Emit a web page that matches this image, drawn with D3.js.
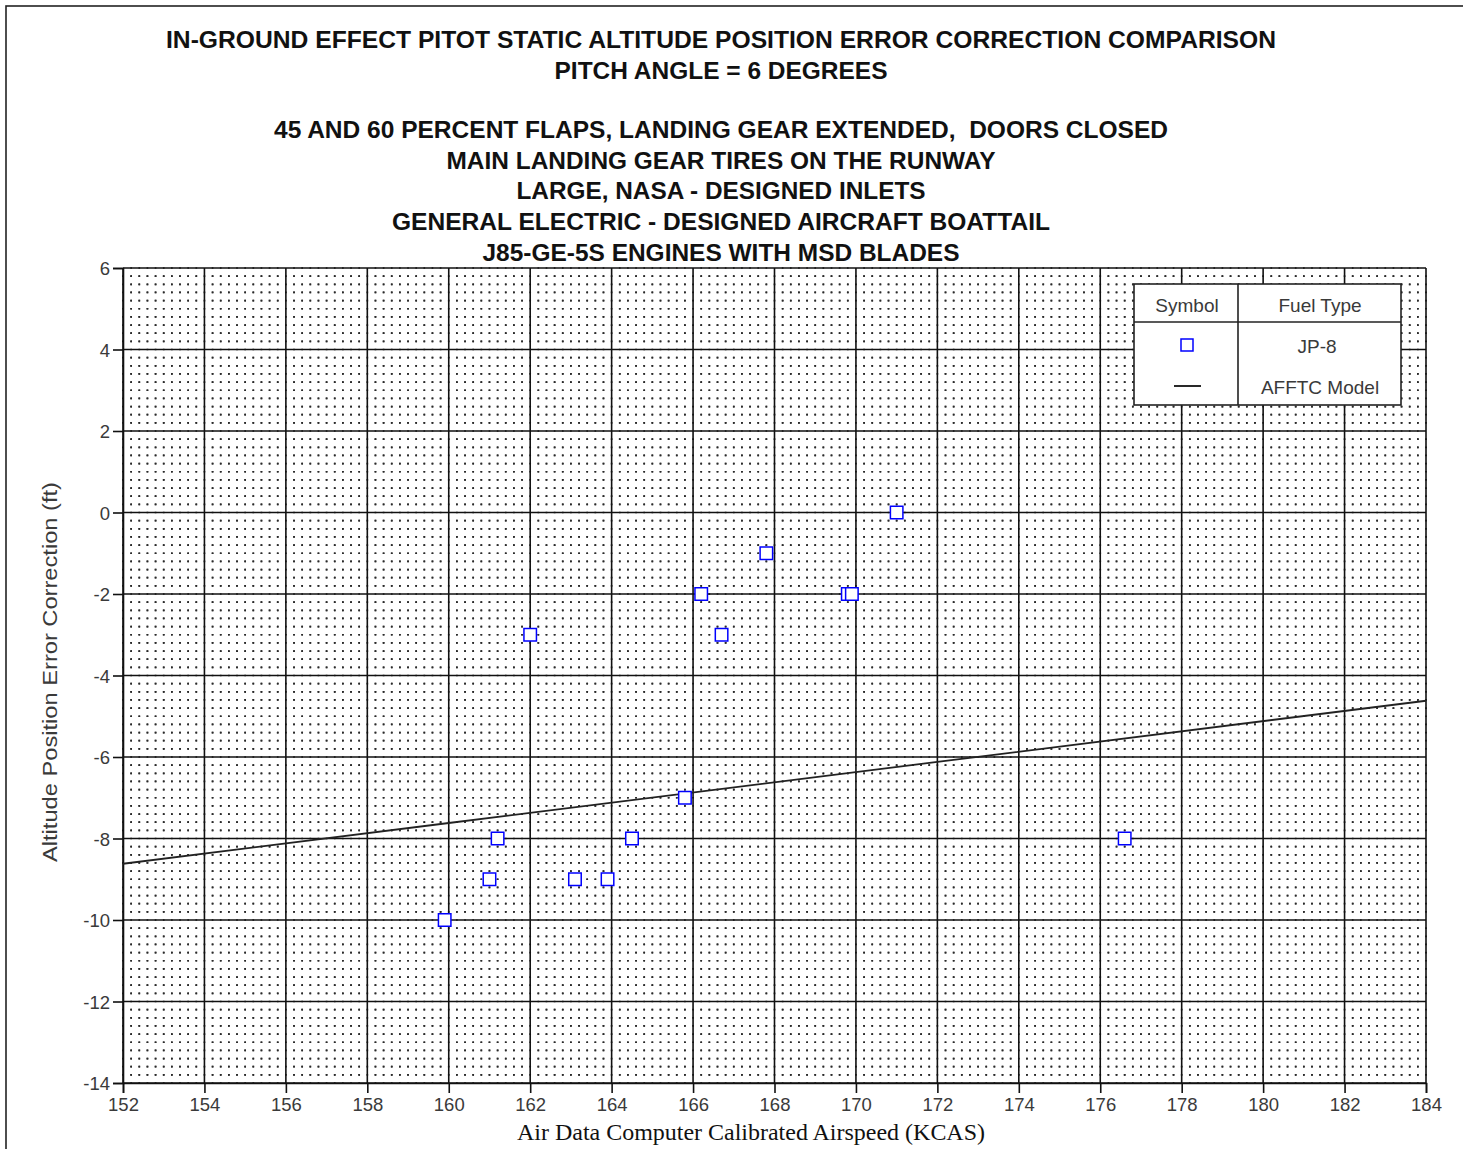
<!DOCTYPE html>
<html>
<head>
<meta charset="utf-8">
<script src="https://cdn.jsdelivr.net/npm/d3@7"></script>
<style>
  html, body { margin: 0; padding: 0; background: #fff; }
  svg { display: block; }
  text { white-space: pre; }
</style>
</head>
<body>
<svg id="chart" width="1463" height="1149"></svg>
<script>
// ---- data ----
const titleLines = [
  "IN-GROUND EFFECT PITOT STATIC ALTITUDE POSITION ERROR CORRECTION COMPARISON",
  "PITCH ANGLE = 6 DEGREES",
  "",
  "45 AND 60 PERCENT FLAPS, LANDING GEAR EXTENDED,  DOORS CLOSED",
  "MAIN LANDING GEAR TIRES ON THE RUNWAY",
  "LARGE, NASA - DESIGNED INLETS",
  "GENERAL ELECTRIC - DESIGNED AIRCRAFT BOATTAIL",
  "J85-GE-5S ENGINES WITH MSD BLADES"
];
// JP-8 flight test points: calibrated airspeed (KCAS) and position error correction (ft)
const jp8Kcas = [159.9, 161.0, 161.2, 162.0, 163.1, 163.9, 164.5, 165.8, 166.2, 166.7, 167.8, 169.8, 169.9, 171.0, 176.6];
const jp8Pec  = [-10,   -9,    -8,    -3,    -9,    -9,    -8,    -7,    -2,    -3,    -1,    -2,    -2,    0,     -8];
// AFFTC model curve
const modelKcas = [152, 160, 172, 184];
const modelPec  = [-8.62, -7.62, -6.12, -4.62];
const xTicks = [152, 154, 156, 158, 160, 162, 164, 166, 168, 170, 172, 174, 176, 178, 180, 182, 184];
const yTicks = [6, 4, 2, 0, -2, -4, -6, -8, -10, -12, -14];
const legendHeader = ["Symbol", "Fuel Type"];
const legendRows = ["JP-8", "AFFTC Model"];
const xLabel = "Air Data Computer Calibrated Airspeed (KCAS)";
const yLabel = "Altitude Position Error Correction (ft)";

// ---- layout ----
const plot = { left: 123, right: 1426, top: 268, bottom: 1083 };
const svg = d3.select("#chart");
const x = d3.scaleLinear().domain([152, 184]).range([plot.left, plot.right]);
const y = d3.scaleLinear().domain([-14, 6]).range([plot.bottom, plot.top]);
const sans = "'Liberation Sans', Arial, sans-serif";
const tickColor = "#3a3a3a";
const hyphenInt = d => String(Math.round(d)); // plain ASCII hyphen for negatives

// outer frame
svg.append("rect").attr("x", 6).attr("y", 6).attr("width", 1480).attr("height", 1170)
  .attr("fill", "none").attr("stroke", "#222").attr("stroke-width", 1.6);

// titles
const titleWidths = [1110, 333, 0, 894, 549, 409, 658, 477];
const titleBase = [48, 79, 0, 138, 168.5, 198.5, 229.5, 260.5];
titleLines.forEach((t, i) => {
  if (!t) return;
  svg.append("text")
    .attr("x", 721).attr("y", titleBase[i])
    .attr("text-anchor", "middle")
    .attr("font-family", sans).attr("font-weight", "bold")
    .attr("font-size", 24.5).attr("fill", "#111")
    .attr("textLength", titleWidths[i]).attr("lengthAdjust", "spacingAndGlyphs")
    .text(t);
});

// minor dotted grid (0.2 step) forming a dot lattice
const minorStep = 0.2;
const xMinor = d3.range(0, 161).map(k => 152 + k * minorStep).filter((v, k) => k % 10 !== 0);
const yMinor = d3.range(0, 101).map(k => -14 + k * minorStep).filter((v, k) => k % 10 !== 0);
const px = x(152 + minorStep) - x(152);
const py = y(-14) - y(-14 + minorStep);
const dotLen = 1.7;
const gMinor = svg.append("g").attr("stroke", "#2a2a2a").attr("stroke-width", 1.7);
gMinor.selectAll("line.h").data(yMinor).join("line").attr("class", "h")
  .attr("x1", plot.left - dotLen / 2).attr("x2", plot.right + dotLen)
  .attr("y1", d => y(d)).attr("y2", d => y(d))
  .attr("stroke-dasharray", `${dotLen},${px - dotLen}`);
gMinor.selectAll("line.v").data(xMinor).join("line").attr("class", "v")
  .attr("y1", plot.bottom + dotLen / 2).attr("y2", plot.top - dotLen)
  .attr("x1", d => x(d)).attr("x2", d => x(d))
  .attr("stroke-dasharray", `${dotLen},${py - dotLen}`);

// major grid
const gMajor = svg.append("g").attr("stroke", "#111").attr("stroke-width", 1.6);
gMajor.selectAll("line.h").data(yTicks).join("line").attr("class", "h")
  .attr("x1", plot.left).attr("x2", plot.right)
  .attr("y1", d => y(d)).attr("y2", d => y(d));
gMajor.selectAll("line.v").data(xTicks).join("line").attr("class", "v")
  .attr("y1", plot.bottom).attr("y2", plot.top)
  .attr("x1", d => x(d)).attr("x2", d => x(d));

// axes
const xAxis = svg.append("g").attr("transform", `translate(0,${plot.bottom})`)
  .call(d3.axisBottom(x).tickValues(xTicks).tickFormat(hyphenInt).tickSize(10).tickPadding(4));
const yAxis = svg.append("g").attr("transform", `translate(${plot.left},0)`)
  .call(d3.axisLeft(y).tickValues(yTicks).tickFormat(hyphenInt).tickSize(10).tickPadding(3));
[xAxis, yAxis].forEach(g => {
  g.select(".domain").attr("stroke", "#111").attr("stroke-width", 1.6);
  g.selectAll(".tick line").attr("stroke", "#111").attr("stroke-width", 1.6);
  g.selectAll(".tick text").attr("font-family", sans).attr("font-size", 18.5).attr("fill", tickColor);
});
yAxis.selectAll(".tick text").attr("dy", "0.36em");
xAxis.selectAll(".tick text").attr("dy", "0.78em");

// axis titles
svg.append("text")
  .attr("x", 751).attr("y", 1140).attr("text-anchor", "middle")
  .attr("font-family", "'Liberation Serif', 'Times New Roman', serif")
  .attr("font-size", 23.5).attr("fill", "#111")
  .attr("textLength", 468).attr("lengthAdjust", "spacingAndGlyphs")
  .text(xLabel);
svg.append("text")
  .attr("transform", "translate(57,672) rotate(-90)")
  .attr("text-anchor", "middle")
  .attr("font-family", sans).attr("font-size", 21).attr("fill", tickColor)
  .attr("textLength", 380).attr("lengthAdjust", "spacingAndGlyphs")
  .text(yLabel);

// AFFTC model line
const line = d3.line().x(d => x(d[0])).y(d => y(d[1]));
svg.append("path")
  .datum(modelKcas.map((k, i) => [k, modelPec[i]]))
  .attr("d", line).attr("fill", "none").attr("stroke", "#222").attr("stroke-width", 1.8);

// JP-8 points
const sq = 12.5;
svg.append("g").selectAll("rect")
  .data(jp8Kcas.map((k, i) => [k, jp8Pec[i]]))
  .join("rect")
  .attr("x", d => x(d[0]) - sq / 2).attr("y", d => y(d[1]) - sq / 2)
  .attr("width", sq).attr("height", sq)
  .attr("fill", "#fff").attr("stroke", "#0000ff").attr("stroke-width", 1.5);

// legend table
const lg = { x0: 1134, x1: 1401, xDiv: 1238, y0: 284, yHead: 322, y1: 405 };
const gL = svg.append("g");
gL.append("rect").attr("x", lg.x0).attr("y", lg.y0)
  .attr("width", lg.x1 - lg.x0).attr("height", lg.y1 - lg.y0)
  .attr("fill", "#fff").attr("stroke", "#222").attr("stroke-width", 1.6);
gL.append("line").attr("x1", lg.xDiv).attr("x2", lg.xDiv).attr("y1", lg.y0).attr("y2", lg.y1)
  .attr("stroke", "#222").attr("stroke-width", 1.6);
gL.append("line").attr("x1", lg.x0).attr("x2", lg.x1).attr("y1", lg.yHead).attr("y2", lg.yHead)
  .attr("stroke", "#222").attr("stroke-width", 1.6);
const legendText = (t, cx, by) => gL.append("text").attr("x", cx).attr("y", by)
  .attr("text-anchor", "middle").attr("font-family", sans).attr("font-size", 19)
  .attr("fill", tickColor).text(t);
legendText(legendHeader[0], 1187, 312);
legendText(legendHeader[1], 1320, 312);
legendText(legendRows[0], 1317, 353);
legendText(legendRows[1], 1320, 394);
gL.append("rect").attr("x", 1187 - 6).attr("y", 345 - 6).attr("width", 12).attr("height", 12)
  .attr("fill", "#fff").attr("stroke", "#0000ff").attr("stroke-width", 1.5);
gL.append("line").attr("x1", 1174).attr("x2", 1201).attr("y1", 386).attr("y2", 386)
  .attr("stroke", "#111").attr("stroke-width", 1.8);
</script>
</body>
</html>
